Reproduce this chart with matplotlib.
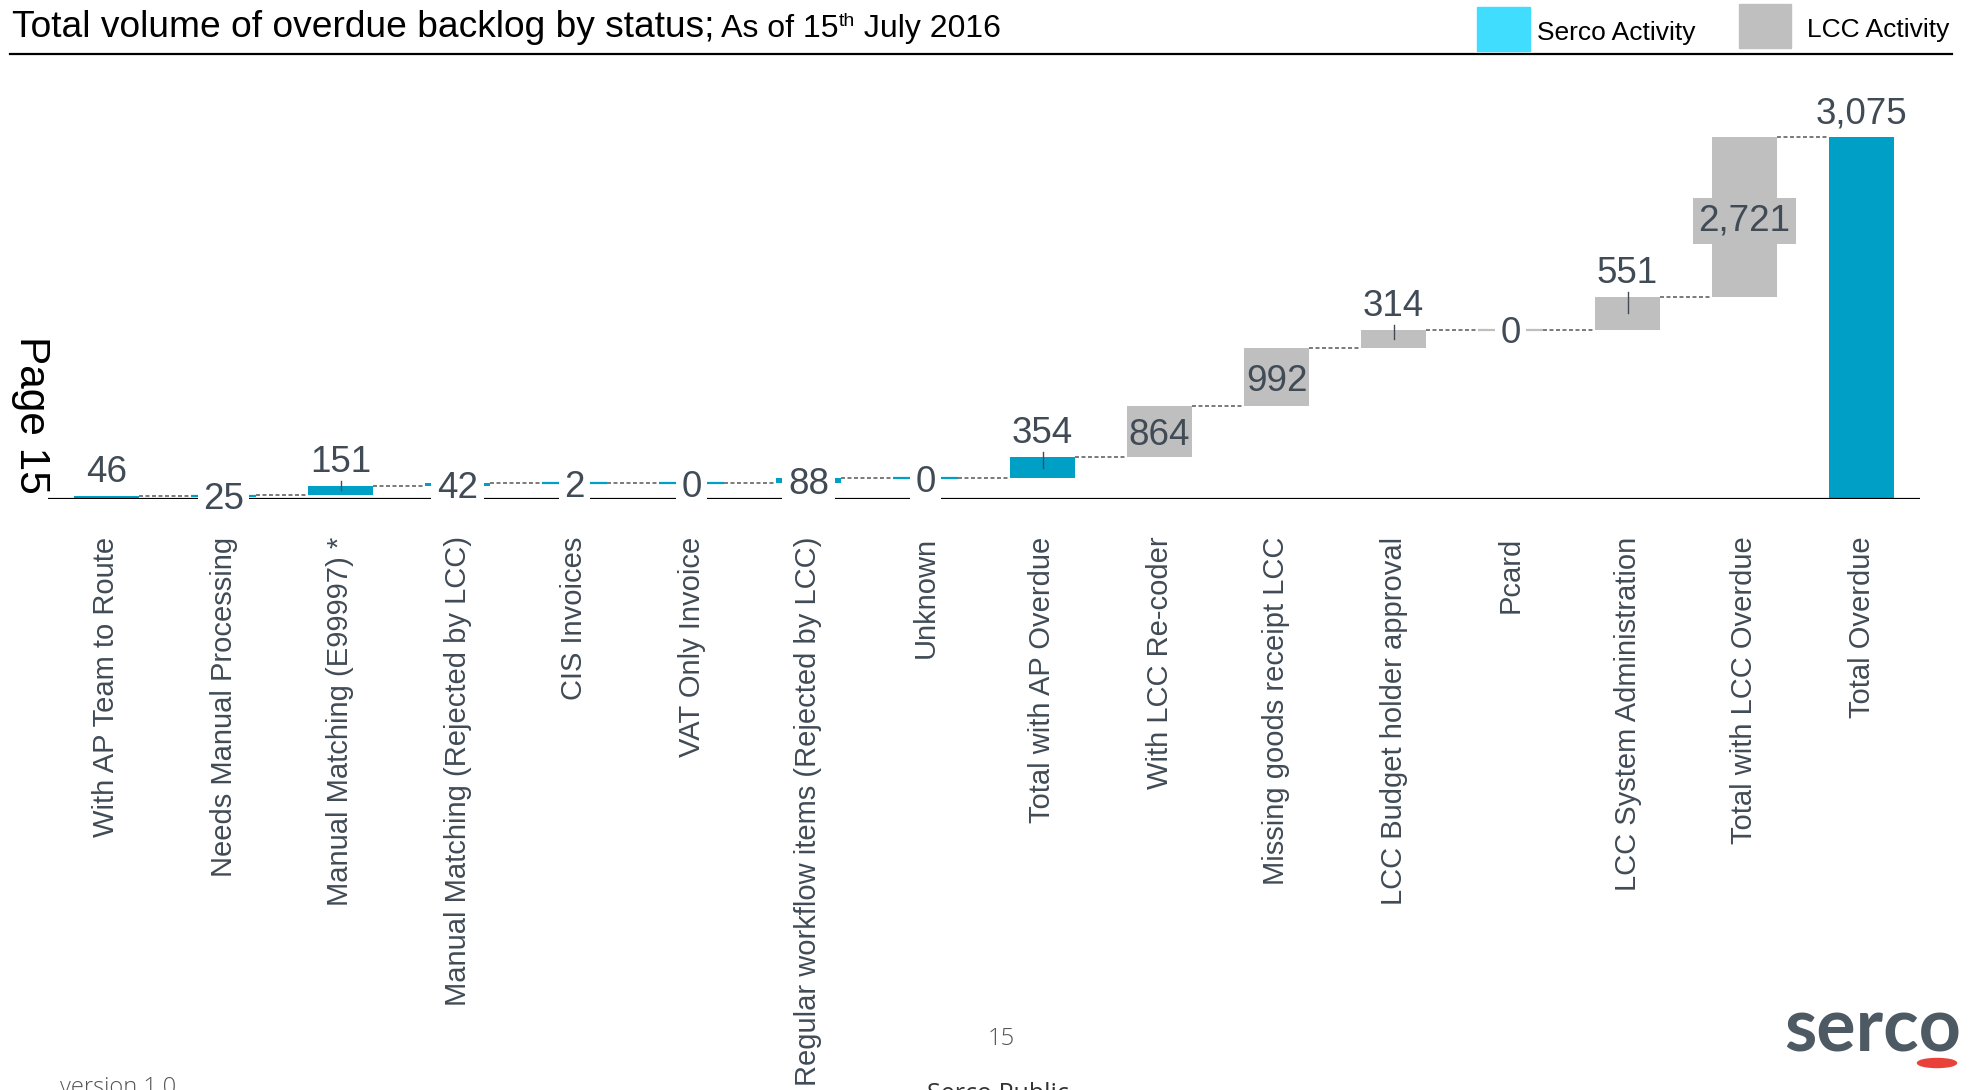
import matplotlib
matplotlib.use('Agg')  # no display available
import matplotlib.pyplot as plt
from matplotlib.patches import Rectangle, Ellipse
from matplotlib.lines import Line2D
import numpy as np

plt.rcParams['font.family'] = ['Liberation Sans', 'DejaVu Sans']

# --- data ------------------------------------------------------------------
categories = [
    "With AP Team to Route", "Needs Manual Processing", "Manual Matching (E99997) *",
    "Manual Matching (Rejected by LCC)", "CIS Invoices", "VAT Only Invoice",
    "Regular workflow items (Rejected by LCC)", "Unknown", "Total with AP Overdue",
    "With LCC Re-coder", "Missing goods receipt LCC", "LCC Budget holder approval",
    "Pcard", "LCC System Administration", "Total with LCC Overdue", "Total Overdue",
]
# step values of the waterfall (the last category is the closing total bar)
values = [46, 25, 151, 42, 2, 0, 88, 0, 354, 864, 992, 314, 0, 551, 2721]
total_label = 3075
owners = ["serco"] * 9 + ["lcc"] * 6 + ["serco"]

# label style per bar: where it sits and which box is behind it
label_pos = ["out", "in", "out", "in", "in", "in", "in", "in", "out",
             "in", "in", "out", "in", "out", "in", "out"]
label_box = [None, "white", None, "white", "white", "white", "white", "white", None,
             None, None, None, "white", None, "bar", None]

# --- colours ----------------------------------------------------------------
SERCO = "#00A0C6"
LCC = "#BFBFBF"
TXT = "#404B56"
bar_col = {"serco": SERCO, "lcc": LCC}

W, H = 1972, 1090
fig = plt.figure(figsize=(W / 100, H / 100), dpi=100)

def fx(px):
    return px / W

def fy(py):
    return 1 - py / H

# axes placed so that the baseline and bars land where the reference has them
base_px, top_px, ax_top_px = 499, 137, 80
ax = fig.add_axes([fx(48), fy(base_px), (1920 - 48) / W, (base_px - ax_top_px) / H])

cum = np.cumsum(values)
bottoms = cum - np.array(values)
end = cum[-1]
ymax = end * (base_px - ax_top_px) / (base_px - top_px)
upp = ymax / (base_px - ax_top_px)  # data units per pixel

n = len(categories)
x = np.arange(n)
bw = 0.55

bar_bottoms = list(bottoms) + [0]
bar_heights = list(values) + [end]
bar_colors = [bar_col[o] for o in owners]
labels = [f"{v:,}" for v in values] + [f"{total_label:,}"]

ax.bar(x, bar_heights, bottom=bar_bottoms, width=bw, color=bar_colors,
       linewidth=0, zorder=2)

# tiny / zero steps still get a visible stroke
for i in range(len(values)):
    if values[i] < 40:
        lvl = bar_bottoms[i] + bar_heights[i] / 2
        ax.plot([i - bw / 2, i + bw / 2], [lvl, lvl], color=bar_colors[i],
                lw=1.6, solid_capstyle='butt', zorder=2)

# dotted connectors between consecutive bars
for i in range(n - 1):
    ax.plot([i + bw / 2, i + 1 - bw / 2], [cum[i], cum[i]], color="#707070",
            lw=1.3, ls=(0, (2.2, 1.4)), zorder=1)

ax.axhline(0, color="black", lw=1.6, zorder=3)

# value labels
for i in range(n):
    top = bar_bottoms[i] + bar_heights[i]
    if label_pos[i] == "out":
        if bar_heights[i] > 100 and i < n - 1:
            mid = bar_bottoms[i] + bar_heights[i] / 2
            ax.plot([i, i], [mid, top + 5 * upp], color=TXT, lw=1.0, zorder=4)
        ax.annotate(labels[i], (i, top), xytext=(0, 10), textcoords="offset points",
                    ha="center", va="baseline", fontsize=26.5, color=TXT, zorder=5)
    else:
        mid = bar_bottoms[i] + bar_heights[i] / 2
        box = None
        if label_box[i] == "white":
            box = dict(boxstyle="square,pad=0.15", fc="white", ec="none")
        elif label_box[i] == "bar":
            box = dict(boxstyle="square,pad=0.15", fc=bar_colors[i], ec="none")
        ax.text(i, mid, labels[i], ha="center", va="center_baseline", fontsize=26.5,
                color=TXT, bbox=box, zorder=5)

ax.set_xlim(-0.5, n - 0.5)
ax.set_ylim(0, ymax)
ax.set_yticks([])
ax.set_xticks(x)
ax.set_xticklabels(categories, rotation=90, fontsize=21, color=TXT, va="top", ha="center")
ax.tick_params(axis="x", length=0, pad=27)
for s in ax.spines.values():
    s.set_visible(False)
ax.patch.set_alpha(0)

# --- title with mixed sizes and a superscript --------------------------------
r = fig.canvas.get_renderer()
t = fig.text(fx(12), fy(37), "Total volume of overdue backlog by status;", fontsize=26.7,
             va="baseline", color="black")
xe = t.get_window_extent(r).x1
t = fig.text(xe / W, fy(37), " As of 15", fontsize=23, va="baseline", color="black")
xe = t.get_window_extent(r).x1
t = fig.text(xe / W, fy(26), "th", fontsize=14, va="baseline", color="black")
xe = t.get_window_extent(r).x1
fig.text(xe / W, fy(37), " July 2016", fontsize=23, va="baseline", color="black")

fig.add_artist(Line2D([fx(10), fx(1952)], [fy(54), fy(54)], color="black", lw=1.6))

# legend swatches
fig.add_artist(Rectangle((fx(1477), fy(51)), 53 / W, 44 / H, color="#40DDFF",
                         transform=fig.transFigure))
fig.text(fx(1537), fy(40), "Serco Activity", fontsize=19, va="baseline")
fig.add_artist(Rectangle((fx(1739), fy(48)), 52 / W, 44 / H, color=LCC,
                         transform=fig.transFigure))
fig.text(fx(1807), fy(37), "LCC Activity", fontsize=19, va="baseline")

# page furniture
fig.text(fx(31), fy(415), "Page 15", fontsize=30.5, rotation=270, ha="center", va="center")
fig.text(fx(1001), fy(1039), "15", fontsize=17, ha="center", va="center", color="#555555",
         family=["Open Sans", "DejaVu Sans"], fontweight="light")
fig.text(fx(60), fy(1076), "version 1.0", fontsize=17, ha="left", va="top", color="#555555",
         family=["Open Sans", "DejaVu Sans"], fontweight="light")
fig.text(fx(927), fy(1082), "Serco Public", fontsize=18, ha="left", va="top", color="#333333",
         family=["Open Sans", "DejaVu Sans"])

# serco logo
fig.text(fx(1784), fy(1051), "serco", fontsize=53, ha="left", va="baseline", color="#4E5A63",
         family=["Lato", "DejaVu Sans"], fontweight="bold")
fig.add_artist(Ellipse((fx(1937), fy(1063)), 39 / W, 9 / H, color="#E8423A",
                       transform=fig.transFigure))

fig.savefig("out.png", dpi=100)
